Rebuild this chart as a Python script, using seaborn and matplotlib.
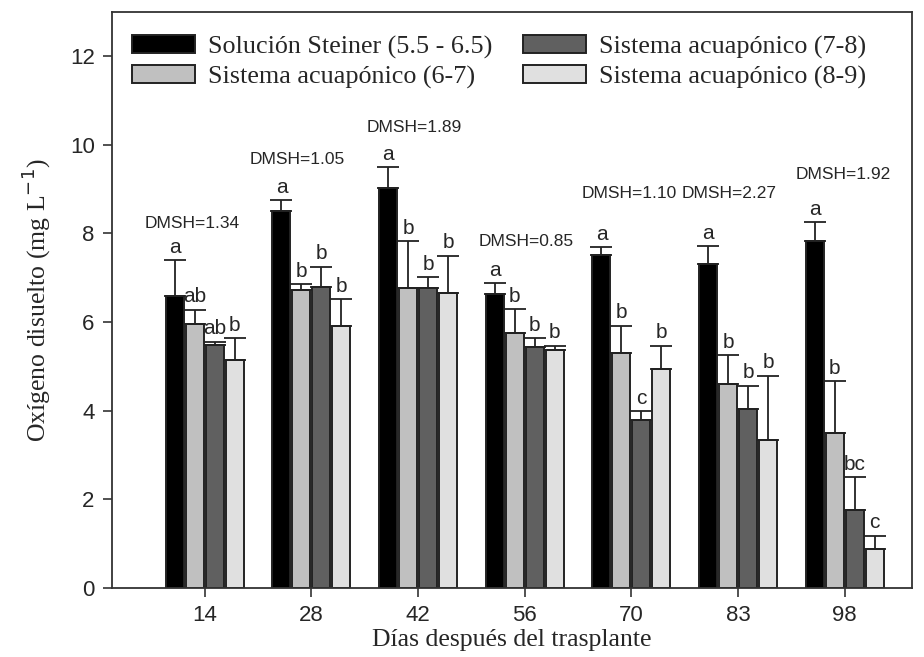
import pandas as pd
import matplotlib
matplotlib.use("Agg")
import matplotlib.pyplot as plt
import matplotlib.patches as mpatches
import seaborn as sns

# datos
dias = ["14", "28", "42", "56", "70", "83", "98"]
tratamientos = [
    "Solución Steiner (5.5 - 6.5)",
    "Sistema acuapónico (6-7)",
    "Sistema acuapónico (7-8)",
    "Sistema acuapónico (8-9)",
]
steiner = [6.58, 8.50, 9.02, 6.64, 7.51, 7.31, 7.83]
acua_67 = [5.96, 6.73, 6.76, 5.76, 5.31, 4.60, 3.50]
acua_78 = [5.48, 6.80, 6.76, 5.44, 3.80, 4.05, 1.77]
acua_89 = [5.15, 5.92, 6.66, 5.38, 4.95, 3.35, 0.87]

err_steiner = [0.82, 0.25, 0.47, 0.24, 0.18, 0.40, 0.42]
err_67 = [0.32, 0.12, 1.06, 0.53, 0.61, 0.65, 1.17]
err_78 = [0.08, 0.45, 0.25, 0.20, 0.19, 0.51, 0.73]
err_89 = [0.48, 0.60, 0.84, 0.09, 0.52, 1.44, 0.31]

letras_steiner = ["a", "a", "a", "a", "a", "a", "a"]
letras_67 = ["ab", "b", "b", "b", "b", "b", "b"]
letras_78 = ["ab", "b", "b", "b", "c", "b", "bc"]
letras_89 = ["b", "b", "b", "b", "b", "b", "c"]

dmsh = ["DMSH=1.34", "DMSH=1.05", "DMSH=1.89", "DMSH=0.85",
        "DMSH=1.10", "DMSH=2.27", "DMSH=1.92"]
dmsh_dx = [-0.12, -0.13, -0.04, 0.01, -0.02, -0.08, -0.01]
dmsh_y = [8.22, 9.66, 10.39, 7.82, 8.89, 8.89, 9.32]

colores = ["#000000", "#c0c0c0", "#606060", "#e0e0e0"]

medias = [steiner, acua_67, acua_78, acua_89]
errores = [err_steiner, err_67, err_78, err_89]
letras = [letras_steiner, letras_67, letras_78, letras_89]

df = pd.DataFrame({
    "dia": dias * 4,
    "tratamiento": [t for t in tratamientos for _ in dias],
    "od": [v for serie in medias for v in serie],
})

sns.set_style("ticks")
plt.rcParams["font.family"] = ["Liberation Sans", "DejaVu Sans"]

fig = plt.figure(figsize=(9.24, 6.57), dpi=100)
ax = fig.add_axes([0.1212, 0.105, 0.8658, 0.877])

sns.barplot(data=df, x="dia", y="od", hue="tratamiento", palette=colores,
            errorbar=None, width=0.75, gap=0.1, edgecolor="#222222",
            linewidth=1.4, saturation=1, legend=False, ax=ax)

for cont, err, lets in zip(ax.containers, errores, letras):
    xs = [b.get_x() + b.get_width() / 2 for b in cont]
    ys = [b.get_height() for b in cont]
    ax.errorbar(xs, ys, yerr=[[0] * len(err), err], fmt="none",
                ecolor="#222222", elinewidth=1.3, capsize=8, capthick=1.3,
                zorder=1)
    for x, y, e, l in zip(xs, ys, err, lets):
        ax.annotate(l, (x, y + e), xytext=(0, 2.5), textcoords="offset points",
                    ha="center", va="bottom", fontsize=15)

for i, (t, dx, y) in enumerate(zip(dmsh, dmsh_dx, dmsh_y)):
    ax.text(i + dx, y, t, ha="center", va="center", fontsize=12.5)

ax.set_ylim(0, 13)
ax.set_xlim(-0.87, 6.63)
ax.set_yticks(range(0, 13, 2))
ax.tick_params(axis="both", direction="out", length=6.5, width=1.2,
               color="#333333", labelsize=16, pad=6)

serif = {"family": ["Liberation Serif", "DejaVu Serif"], "size": 18.5}
ax.set_xlabel("Días después del trasplante", fontdict=serif, labelpad=2)
ax.set_ylabel("Oxígeno disuelto (mg L$^{-1}$)", fontdict=serif, labelpad=12)

for s in ax.spines.values():
    s.set_visible(True)
    s.set_color("#333333")
    s.set_linewidth(1.3)

handles = [mpatches.Patch(facecolor=c, edgecolor="#222222", linewidth=1.4, label=t)
           for c, t in zip(colores, tratamientos)]
ax.legend(handles=handles, ncol=2, loc="upper left", bbox_to_anchor=(0.025, 0.96),
          frameon=False, borderpad=0, borderaxespad=0, handlelength=2.4,
          handleheight=0.7, handletextpad=0.5, columnspacing=1.2,
          labelspacing=0.25, prop={"family": ["Liberation Serif", "DejaVu Serif"], "size": 18.8})

fig.savefig("out.png", dpi=100)
